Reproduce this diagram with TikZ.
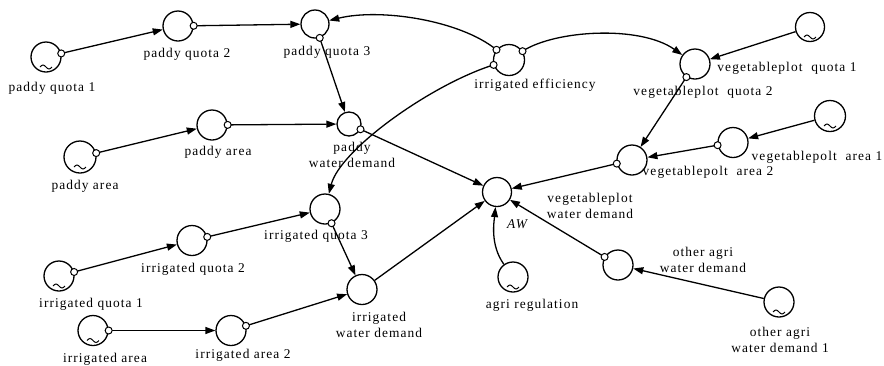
\documentclass[tikz,border=0pt]{standalone}
\usepackage{fontspec}
\setmainfont{Liberation Serif}[LetterSpace=8]
\usetikzlibrary{arrows.meta}
\newcommand\lblfont{\fontsize{13.4}{16}\selectfont}
\tikzset{
  var/.style={circle, draw, line width=1.3pt, minimum size=30pt, inner sep=0pt},
  cst/.style={var, path picture={\draw[line width=1pt] (path picture bounding box.center) ++(-6,10) sin ++(3,-2) cos ++(3,2) sin ++(3,2) cos ++(3,-2);}},
  lbl/.style={inner sep=0pt, align=center, font=\lblfont},
  link/.style={line width=1.3pt, -{Triangle[length=10pt,width=7pt]}},
  tail/.style={circle, draw, line width=1pt, fill=white, minimum size=7pt, inner sep=0pt}
}
\begin{document}
\begin{tikzpicture}[x=1pt,y=-1pt]
\useasboundingbox (0,0) rectangle (884,365);
% variables
\node[cst] (pq1) at (46,57) {};
\node[var] (pq2) at (178,26) {};
\node[var, minimum size=28pt] (pq3) at (315,24) {};
\node[cst, minimum size=32pt] (pac) at (80,157) {};
\node[var] (pa) at (212,125) {};
\node[var, minimum size=24pt] (pwd) at (349,124) {};
\node[var, minimum size=31pt] (ie) at (509,60) {};
\node[var] (vq2) at (695,64) {};
\node[cst, minimum size=29pt] (vq1) at (810,27) {};
\node[cst, minimum size=31pt] (va1) at (830,116) {};
\node[var] (va2) at (733,142.5) {};
\node[var] (vwd) at (632,160) {};
\node[var, minimum size=29pt] (aw) at (497,192) {};
\node[cst] (ar) at (513,277) {};
\node[var] (oa) at (618,265) {};
\node[cst] (oa1) at (779,302) {};
\node[var] (iq3) at (325,209) {};
\node[var] (iwd) at (362,289.5) {};
\node[var] (iq2) at (192,240.5) {};
\node[cst] (iq1) at (59,276) {};
\node[cst] (iac) at (93,330.5) {};
\node[var] (ia2) at (231,330.5) {};
% labels
\node[lbl] (lpq1) at (52,88) {paddy quota 1};
\node[lbl] (lpq2) at (187,54) {paddy quota 2};
\node[lbl] (lpq3) at (327,52) {paddy quota 3};
\node[lbl] (lpac) at (85,186) {paddy area};
\node[lbl] (lpa) at (218,152) {paddy area};
\node[lbl] (lpwd) at (352,155) {paddy\\water demand};
\node[lbl] (lie) at (535,85) {irrigated efficiency};
\node[lbl] (lvq1) at (787,68) {vegetableplot\ \ quota 1};
\node[lbl] (lvq2) at (703,92) {vegetableplot\ \ quota 2};
\node[lbl] (lva1) at (817,157) {vegetablepolt\ \ area 1};
\node[lbl] (lva2) at (708,172) {vegetablepolt\ \ area 2};
\node[lbl] (lvwd) at (590,205.5) {vegetableplot\\water demand};
\node[lbl, font=\lblfont\itshape] (law) at (517,224) {AW};
\node[lbl] (lar) at (532,305) {agri regulation};
\node[lbl] (loa) at (703,259.5) {other agri\\water demand};
\node[lbl] (loa1) at (780,339.5) {other agri\\water demand 1};
\node[lbl] (liq3) at (316,236) {irrigated quota 3};
\node[lbl] (liwd) at (379,325) {irrigated\\water demand};
\node[lbl] (liq2) at (193,269) {irrigated quota 2};
\node[lbl] (liq1) at (91,304) {irrigated quota 1};
\node[lbl] (liac) at (105,359) {irrigated area};
\node[lbl] (lia2) at (243,355) {irrigated area 2};
% connectors
\draw[link] (pq1) -- (pq2) node[tail,pos=0] (t1) {};
\draw[link] (pq2) -- (pq3) node[tail,pos=0] (t2) {};
\draw[link] (pq3) -- (pwd) node[tail,pos=0] (t3) {};
\draw[link] (pac) -- (pa) node[tail,pos=0] (t4) {};
\draw[link] (pa) -- (pwd) node[tail,pos=0] (t5) {};
\draw[link] (pwd) -- (aw) node[tail,pos=0] (t6) {};
\draw[link] (ie) .. controls (460,20) and (380,8) .. (pq3) node[tail,pos=0] (t7) {};
\draw[link] (ie) .. controls (555,30) and (640,25) .. (vq2) node[tail,pos=0] (t8) {};
\draw[link] (ie) .. controls (430,85) and (340,150) .. (iq3) node[tail,pos=0] (t9) {};
\draw[link] (vq1) -- (vq2);
\draw[link] (vq2) -- (vwd) node[tail,pos=0] (t10) {};
\draw[link] (va1) -- (va2);
\draw[link] (va2) -- (vwd) node[tail,pos=0] (t11) {};
\draw[link] (vwd) -- (aw) node[tail,pos=0] (t12) {};
\draw[link] (oa) -- (aw) node[tail,pos=0] (t13) {};
\draw[link] (oa1) -- (oa);
\draw[link] (ar) .. controls (490,245) and (494,222) .. (aw);
\draw[link] (iq3) -- (iwd) node[tail,pos=0] (t14) {};
\draw[link] (iq2) -- (iq3) node[tail,pos=0] (t15) {};
\draw[link] (iq1) -- (iq2) node[tail,pos=0] (t16) {};
\draw[link] (iac) -- (ia2) node[tail,pos=0] (t17) {};
\draw[link] (ia2) -- (iwd) node[tail,pos=0] (t18) {};
\draw[link] (iwd) -- (aw);
\end{tikzpicture}
\end{document}
